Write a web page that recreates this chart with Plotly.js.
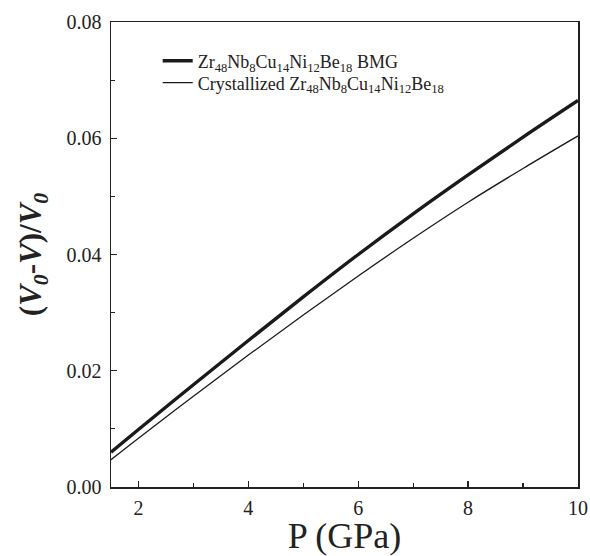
<!DOCTYPE html>
<html>
<head>
<meta charset="utf-8">
<script src="https://cdn.plot.ly/plotly-3.0.1.min.js"></script>
<style>
html,body{margin:0;padding:0;background:#fff;}
#chart{width:590px;height:556px;}
#chart .xtick text, #chart .ytick text {font-family: "Liberation Serif", serif !important; font-size: 20px !important; fill: #222 !important;}
</style>
</head>
<body>
<div id="chart"></div>
<script>
const pressure = [1.5, 2, 3, 4, 5, 6, 7, 8, 9, 10];
const bmgStrain = [0.0060, 0.0099, 0.0176, 0.0252, 0.0327, 0.0400, 0.0470, 0.0537, 0.0602, 0.0665];
const crystStrain = [0.0047, 0.0084, 0.0156, 0.0227, 0.0296, 0.0363, 0.0428, 0.0490, 0.0548, 0.0604];
const seriesNames = [
  'Zr<sub>48</sub>Nb<sub>8</sub>Cu<sub>14</sub>Ni<sub>12</sub>Be<sub>18</sub> BMG',
  'Crystallized Zr<sub>48</sub>Nb<sub>8</sub>Cu<sub>14</sub>Ni<sub>12</sub>Be<sub>18</sub>'
];

const font = 'Liberation Serif';
const traces = [
  {x: pressure, y: bmgStrain, mode: 'lines', name: seriesNames[0], legend: 'legend',
   line: {color: '#1a1a1a', width: 3.4, shape: 'spline'}},
  {x: pressure, y: crystStrain, mode: 'lines', name: seriesNames[1], legend: 'legend2',
   line: {color: '#1a1a1a', width: 1.3, shape: 'spline'}}
];
function axisBase() {
  return {
    showgrid: false, zeroline: false, showline: true, mirror: true,
    linecolor: '#222', linewidth: 1.5, ticks: 'inside', ticklen: 6, tickwidth: 1.3,
    tickcolor: '#222', tickfont: {family: font, size: 20, color: '#222'}
  };
}
function legendBase(y) {
  return {x: 0.1, y: y, xanchor: 'left', yanchor: 'middle', bgcolor: 'rgba(0,0,0,0)',
    font: {family: font, size: 18, color: '#222'}};
}
const layout = {
  width: 590, height: 556,
  font: {family: font, color: '#222', size: 18},
  margin: {l: 111, r: 12, t: 22, b: 69},
  paper_bgcolor: '#fff', plot_bgcolor: '#fff',
  showlegend: true,
  legend: legendBase(0.916),
  legend2: legendBase(0.869),
  xaxis: Object.assign(axisBase(), {
    range: [1.5, 10], dtick: 2, tick0: 0, ticklabelstandoff: 2,
    minor: {dtick: 1, ticks: 'inside', ticklen: 4, tickwidth: 1.2, tickcolor: '#222'},
    title: {text: 'P (GPa)', font: {family: font, size: 36, color: '#222'}, standoff: 14}
  }),
  yaxis: Object.assign(axisBase(), {
    range: [0, 0.08], dtick: 0.02, tick0: 0, tickformat: '.2f', ticklabelstandoff: 4,
    minor: {dtick: 0.01, ticks: 'inside', ticklen: 4, tickwidth: 1.2, tickcolor: '#222'},
    title: {text: '<b>(<i>V<sub>0</sub></i>-<i>V</i>)/<i>V<sub>0</sub></i></b>', font: {family: font, size: 31, color: '#222'}, standoff: 15}
  })
};
Plotly.newPlot('chart', traces, layout, {displayModeBar: false, staticPlot: true});
</script>
</body>
</html>
